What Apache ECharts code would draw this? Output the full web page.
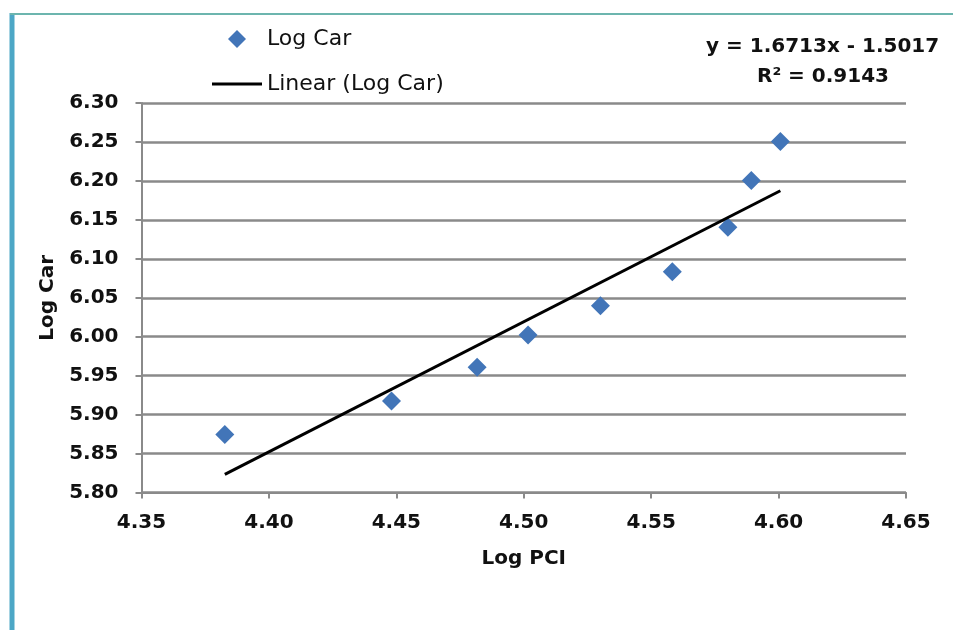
<!DOCTYPE html>
<html>
<head>
<meta charset="utf-8">
<script src="https://cdn.jsdelivr.net/npm/echarts@6/dist/echarts.min.js"></script>
<style>
  html, body { margin: 0; padding: 0; background: #ffffff; }
  #chart { width: 953px; height: 630px; }
</style>
</head>
<body>
<div id="chart"></div>
<script>
// values
const logPci = [4.3827, 4.4481, 4.4817, 4.5017, 4.5301, 4.5583, 4.5801, 4.5893, 4.6007];
const logCar = [5.8746, 5.9174, 5.9607, 6.0022, 6.0398, 6.0835, 6.1406, 6.2005, 6.2506];
// trendline end points as drawn
const trendX = [4.3827, 4.6007];
const trendY = [5.8232, 6.1874];
const equationLines = ["y = 1.6713x - 1.5017", "R\u00b2 = 0.9143"];

const FONT = "'DejaVu Sans', sans-serif";
const GRID_GRAY = "#8a8a8a";
const DIAMOND_BLUE = "#4275b8";

const scatterData = logPci.map((x, i) => [x, logCar[i]]);
const trendData = trendX.map((x, i) => [x, trendY[i]]);

const chart = echarts.init(document.getElementById("chart"), null, { renderer: "canvas" });

chart.setOption({
  backgroundColor: "#ffffff",
  animation: false,
  textStyle: { fontFamily: FONT },
  grid: { left: 141.5, right: 47, top: 103, bottom: 137.5 },
  legend: [
    {
      data: [{ name: "Log Car", icon: "diamond" }],
      left: 223,
      top: 23,
      itemWidth: 18,
      itemHeight: 18,
      textStyle: { fontFamily: FONT, fontSize: 22, color: "#111", padding: [0, 0, 0, 16] }
    },
    {
      data: [{ name: "Linear (Log Car)", icon: "rect" }],
      left: 207,
      top: 68,
      itemWidth: 50,
      itemHeight: 3,
      itemStyle: { color: "#000000" },
      textStyle: { fontFamily: FONT, fontSize: 22, color: "#111" }
    }
  ],
  xAxis: {
    type: "value",
    min: 4.35,
    max: 4.65,
    interval: 0.05,
    name: "Log PCI",
    nameLocation: "middle",
    nameGap: 56,
    nameTextStyle: { fontFamily: FONT, fontSize: 20, fontWeight: "bold", color: "#111" },
    axisLine: { show: true, lineStyle: { color: GRID_GRAY, width: 2 } },
    axisTick: { show: true, length: 6, lineStyle: { color: GRID_GRAY, width: 2 } },
    axisLabel: {
      margin: 20,
      fontFamily: FONT,
      fontSize: 20,
      fontWeight: "bold",
      color: "#111",
      formatter: (v) => v.toFixed(2)
    },
    splitLine: { show: false }
  },
  yAxis: {
    type: "value",
    min: 5.8,
    max: 6.3,
    interval: 0.05,
    name: "Log Car",
    nameLocation: "middle",
    nameRotate: 90,
    nameGap: 84,
    nameTextStyle: { fontFamily: FONT, fontSize: 20, fontWeight: "bold", color: "#111" },
    axisLine: { show: true, lineStyle: { color: GRID_GRAY, width: 2 } },
    axisTick: { show: true, length: 6, lineStyle: { color: GRID_GRAY, width: 2 } },
    axisLabel: {
      margin: 23,
      fontFamily: FONT,
      fontSize: 20,
      fontWeight: "bold",
      color: "#111",
      formatter: (v) => v.toFixed(2)
    },
    splitLine: { show: true, lineStyle: { color: GRID_GRAY, width: 2.5 } }
  },
  graphic: [
    { type: "line", shape: { x1: 12, y1: 13, x2: 12, y2: 630 }, style: { stroke: "#4da7c6", lineWidth: 5 } },
    { type: "line", shape: { x1: 10, y1: 14, x2: 953, y2: 14 }, style: { stroke: "#6cb5ae", lineWidth: 2 } },
    {
      type: "text",
      left: 706,
      top: 37,
      style: { text: equationLines[0], font: "bold 20px " + FONT, fill: "#111" }
    },
    {
      type: "text",
      left: 757,
      top: 67,
      style: { text: equationLines[1], font: "bold 20px " + FONT, fill: "#111" }
    }
  ],
  series: [
    {
      name: "Log Car",
      type: "scatter",
      symbol: "diamond",
      symbolSize: 19,
      itemStyle: { color: DIAMOND_BLUE, opacity: 1 },
      data: scatterData,
      z: 3
    },
    {
      name: "Linear (Log Car)",
      type: "line",
      symbol: "none",
      lineStyle: { color: "#000000", width: 3 },
      itemStyle: { color: "#000000" },
      data: trendData,
      z: 4
    }
  ]
});
</script>
</body>
</html>
